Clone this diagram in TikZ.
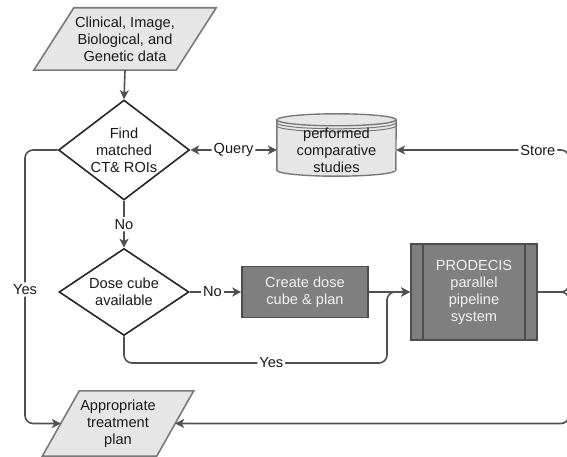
\documentclass[tikz,border=0pt]{standalone}
\usepackage{fontspec}
\setmainfont{Liberation Sans}
\usetikzlibrary{shapes.geometric,arrows.meta,calc,backgrounds}
\definecolor{edgegray}{HTML}{505050}
\definecolor{lightfill}{HTML}{E6E6E6}
\definecolor{lightline}{HTML}{7A7A7A}
\definecolor{darkfill}{HTML}{7F7F7F}
\definecolor{darkline}{HTML}{4D4D4D}
\definecolor{paletext}{HTML}{F2F2F2}
\definecolor{inktext}{HTML}{1A1A1A}

\begin{document}
\begin{tikzpicture}[x=1pt,y=-1pt,
  font=\fontsize{14.6}{17}\selectfont,
  every node/.style={align=center, inner sep=0pt, text=inktext},
  conn/.style={draw=edgegray, line width=1.6pt, rounded corners=8pt},
  tip/.style={-{Stealth[length=9pt,width=9pt,inset=2.5pt]}},
  bothtips/.style={{Stealth[length=9pt,width=9pt,inset=2.5pt]}-{Stealth[length=9pt,width=9pt,inset=2.5pt]}},
  lbl/.style={fill=white, inner sep=2pt},
  decision/.style={diamond, draw=black!85, line width=1.6pt, fill=white},
  slantframe/.style={draw=lightline, fill=lightfill, line width=1.6pt, line join=miter},
  process/.style={rectangle, draw=darkline, fill=darkfill, line width=1.6pt, text=paletext},
  store/.style={draw=lightline, fill=lightfill, line width=1.4pt},
]
\useasboundingbox (0,0) rectangle (567,457);
\clip (0,0) rectangle (567,457);

% nodes (parallelograms and data store get their outlines on the background layer)
\node[minimum width=142pt, minimum height=62pt] (in) at (125,39)
  {Clinical, Image,\\Biological, and\\Genetic data};
\node[decision, minimum width=131pt, minimum height=100pt, aspect=1.3] (d1) at (124,150)
  {Find\\matched\\CT\& ROIs};
\node[minimum width=119pt, minimum height=52pt] (db) at (336.5,150)
  {performed\\comparative\\studies};
\node[decision, minimum width=130pt, minimum height=87pt, aspect=1.5] (d2) at (124,292)
  {Dose cube\\available};
\node[process, minimum width=126pt, minimum height=51pt] (create) at (305,292)
  {Create dose\\cube \& plan};
\node[process, minimum width=126pt, minimum height=96pt] (prod) at (474,292)
  {PRODECIS\\parallel\\pipeline\\system};
\node[minimum width=114pt, minimum height=65pt] (out) at (118,423.5)
  {Appropriate\\treatment\\plan};

% side bars of the predefined-process box
\draw[darkline, line width=1.6pt]
  ($(prod.north west)+(13,0)$) -- ($(prod.south west)+(13,0)$)
  ($(prod.north east)+(-13,0)$) -- ($(prod.south east)+(-13,0)$);

\begin{scope}[on background layer]
  % input / output parallelograms
  \draw[slantframe] ($(in.north west)+(20,0)$) -- ($(in.north east)+(20,0)$)
    -- ($(in.south east)+(-20,0)$) -- ($(in.south west)+(-20,0)$) -- cycle;
  \draw[slantframe] ($(out.north west)+(18.5,0)$) -- ($(out.north east)+(18.5,0)$)
    -- ($(out.south east)+(-18.5,0)$) -- ($(out.south west)+(-18.5,0)$) -- cycle;
  % data store drum: top rim sits above the text block
  \draw[store] ($(db.north west)+(0,-4)$) -- ($(db.south west)+(0,-6)$)
    arc[start angle=180, end angle=360, x radius=59.5pt, y radius=6pt]
    -- ($(db.north east)+(0,-4)$)
    arc[start angle=0, end angle=180, x radius=59.5pt, y radius=6pt] -- cycle;
  \draw[store] ($(db.north west)+(0,-4)$)
    arc[start angle=180, end angle=360, x radius=59.5pt, y radius=6pt];
  \draw[lightline, line width=1pt] ($(db.north west)+(0,-1)$)
    arc[start angle=180, end angle=360, x radius=59.5pt, y radius=6pt];
  \draw[lightline, line width=1pt] ($(db.north west)+(0,2)$)
    arc[start angle=180, end angle=360, x radius=59.5pt, y radius=6pt];
\end{scope}

% routing columns and rows
\coordinate (leftrail) at (25,0);
\coordinate (rightrail) at (569,0);
\coordinate (yesrow) at (0,363);
\coordinate (joincol) at (387,0);

% connectors
\draw[conn, tip] (in.south) -- (d1.north);
\draw[conn, tip] (d1.south) -- node[lbl]{No} (d2.north);
\draw[conn, bothtips] (d1.east) -- node[lbl]{Query} (db.west);
\draw[conn, tip] (d2.east) -- node[lbl, pos=.44]{No} (create.west);
\draw[conn, tip] (create.east) -- (prod.west);
\draw[conn, tip] (d2.south) -- (d2.south |- yesrow)
  -- node[lbl, pos=.56]{Yes} (joincol |- yesrow)
  -- (joincol |- prod.west) -- (prod.west);
\draw[conn, tip] (d1.west) -- (d1.west -| leftrail)
  -- node[lbl, pos=.51]{Yes} (out.west -| leftrail) -- (out.west);
\draw[conn, tip] (prod.east) -- (prod.east -| rightrail)
  -- (db.east -| rightrail) -- node[lbl, pos=.18]{Store} (db.east);
\draw[conn, tip] (prod.east) -- (prod.east -| rightrail)
  -- (out.east -| rightrail) -- (out.east);
\end{tikzpicture}
\end{document}
